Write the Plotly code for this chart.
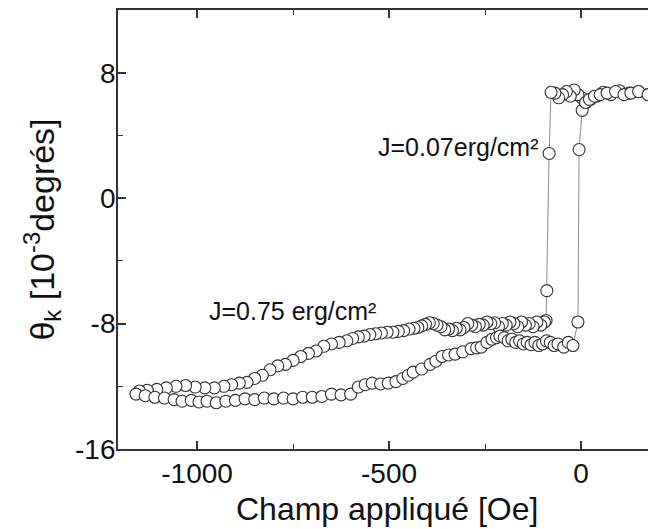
import plotly.graph_objects as go

# Descending sweep: plateau, switching jump, upper branch of broad loop
down_H = [175, 150, 125, 100, 78, 58, 40, 25, 12, 2, -8, -18, -28, -38, -48, -58, -68, -78,
          -83, -89, -91,
          -95, -105, -115, -125, -135, -145, -155, -165, -175, -185, -195, -205, -215, -225,
          -235, -245, -255, -265, -275, -285, -295, -305, -315, -325, -335, -345, -355, -365,
          -375, -385, -395, -405, -415, -425, -435, -448, -462, -476, -490, -505, -520, -535,
          -550, -565, -580, -595, -610, -630, -650, -670, -690, -710, -730, -750, -770, -790,
          -810, -830, -850, -870, -890, -910, -930, -955, -980, -1005, -1030, -1055, -1080,
          -1105, -1130, -1150]
down_theta = [6.6, 6.8, 6.7, 6.85, 6.6, 6.75, 6.5, 6.3, 6.1, 6.4, 6.6, 6.9, 6.5, 6.8, 6.6, 6.4, 6.7, 6.75,
              2.85, -5.9, -7.8,
              -7.9, -8.1, -7.9, -8.2, -8.0, -8.1, -7.9, -8.2, -8.0, -7.9, -8.1, -8.0, -8.2, -7.95,
              -8.0, -7.9, -8.1, -8.05, -8.2, -8.1, -8.0, -8.25, -8.4, -8.3, -8.45, -8.35, -8.4, -8.2,
              -8.1, -8.0, -7.95, -8.05, -8.15, -8.25, -8.3, -8.35, -8.45, -8.5, -8.55, -8.55, -8.6, -8.65,
              -8.7, -8.8, -8.85, -8.95, -9.1, -9.2, -9.3, -9.45, -9.75, -9.9, -10.1, -10.35, -10.6, -10.7,
              -10.95, -11.3, -11.5, -11.75, -11.8, -11.9, -12.0, -12.1, -12.1, -12.05, -11.95, -12.0, -12.1,
              -12.2, -12.25, -12.3]

# Ascending sweep: lower branch of broad loop, switching jump, plateau
up_H = [-1159, -1135, -1110, -1085, -1060, -1039, -1015, -995, -974, -950, -925, -900, -875, -850,
        -825, -800, -775, -750, -725, -700, -675, -650, -625, -600, -580, -562, -544, -522, -502,
        -482, -464, -450, -437, -415, -393, -378, -362, -345, -328, -308, -286, -272, -260, -245,
        -232, -220, -211, -200, -190, -180, -170, -160, -150, -140, -130, -120, -110, -100, -90,
        -80, -70, -60, -45, -33, -21,
        -8, -5, 3,
        12, 22, 35, 50, 68, 90, 112, 130, 150, 175]
up_theta = [-12.5, -12.6, -12.7, -12.75, -12.85, -12.95, -12.9, -13.0, -12.95, -13.05, -12.95, -12.9,
            -12.8, -12.85, -12.75, -12.8, -12.75, -12.8, -12.7, -12.7, -12.65, -12.5, -12.55, -12.5,
            -12.05, -11.9, -11.8, -11.85, -11.8, -11.7, -11.5, -11.3, -11.1, -10.9, -10.6, -10.4,
            -10.1, -10.0, -9.95, -9.8, -9.6, -9.55, -9.5, -9.2, -9.0, -8.9, -8.8, -8.9, -9.1, -9.0,
            -9.2, -9.1, -9.3, -9.2, -9.35, -9.2, -9.4, -9.3, -9.1, -9.2, -9.4, -9.3, -9.5, -9.2, -9.4,
            -7.9, 3.1, 5.6,
            6.1, 6.3, 6.5, 6.6, 6.7, 6.8, 6.6, 6.7, 6.8, 6.6]

H = down_H + up_H
theta = down_theta + up_theta

x_ticks = [-1000, -500, 0]
y_ticks = [-16, -8, 0, 8]

labels = ["J=0.07erg/cm²", "J=0.75 erg/cm²"]
label_x = [-534, -975]
label_y = [3.25, -7.2]

x_title = "Champ appliqué [Oe]"
y_title = "θ<sub>k</sub> [10<sup>-3</sup>degrés]"

font_family = "Liberation Sans, Arial, sans-serif"

fig = go.Figure()
fig.add_trace(go.Scatter(
    x=H, y=theta, mode="lines+markers",
    line=dict(color="#8a8a8a", width=1),
    marker=dict(symbol="circle", size=12, color="white",
                line=dict(color="#333333", width=1.1)),
    showlegend=False,
))

for t, xx, yy in zip(labels, label_x, label_y):
    fig.add_annotation(x=xx, y=yy, text=t, showarrow=False, xanchor="left",
                       font=dict(family=font_family, size=25, color="#111111"))

# x-axis title placed as a paper annotation under the tick labels
fig.add_annotation(x=0.508, y=-0.136, xref="paper", yref="paper", text=x_title,
                   showarrow=False, xanchor="center", yanchor="middle",
                   font=dict(family=font_family, size=32, color="#111111"))

fig.update_layout(
    width=648, height=529,
    margin=dict(l=118, r=0, t=10, b=80),
    paper_bgcolor="white", plot_bgcolor="white",
    font=dict(family=font_family, color="#111111"),
    xaxis=dict(
        range=[-1206, 174.5], tickvals=x_ticks, ticktext=[str(v) for v in x_ticks],
        ticks="inside", ticklen=8, tickwidth=1.5, tickcolor="#333333",
        showline=True, linecolor="#333333", linewidth=1.8, mirror="ticks",
        showgrid=False, zeroline=False, automargin=False,
        tickfont=dict(size=28), ticklabelstandoff=-2,
        minor=dict(dtick=250, tick0=0, ticks="inside", ticklen=5, tickwidth=1.2, tickcolor="#333333", showgrid=False),
    ),
    yaxis=dict(
        range=[-16, 12], tickvals=y_ticks, ticktext=[str(v) for v in y_ticks],
        ticks="inside", ticklen=8, tickwidth=1.5, tickcolor="#333333",
        showline=True, linecolor="#333333", linewidth=1.8, mirror=False,
        showgrid=False, zeroline=False, automargin=False,
        tickfont=dict(size=28), ticklabelstandoff=-5,
        minor=dict(dtick=4, tick0=0, ticks="inside", ticklen=5, tickwidth=1.2, tickcolor="#333333", showgrid=False),
        title=dict(text=y_title, font=dict(size=34), standoff=10),
    ),
)

fig.write_html("out.html", config={"displayModeBar": False},
               post_script="document.body.style.margin='0';document.body.style.overflow='hidden';")
